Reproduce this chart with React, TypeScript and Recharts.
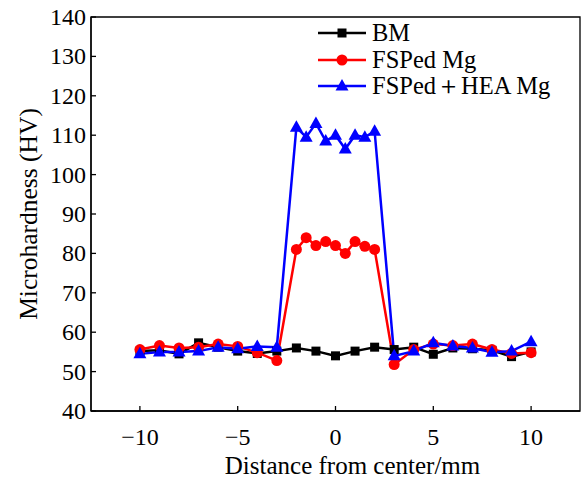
import React from 'react';
import {
  LineChart,
  Line,
  XAxis,
  YAxis,
  Legend,
  ReferenceArea,
} from 'recharts';

// positions across the weld (mm)
const BM_X = [-10, -9, -8, -7, -6, -5, -4, -3, -2, -1, 0, 1, 2, 3, 4, 5, 6, 7, 8, 9, 10];
const FSP_X = [
  -10, -9, -8, -7, -6, -5, -4, -3, -2, -1.5, -1, -0.5, 0, 0.5, 1, 1.5, 2, 3, 4, 5, 6, 7, 8, 9, 10,
];

const BM_HV = [
  55.2, 55.4, 54.5, 57.3, 56.2, 55.2, 54.6, 55.2, 56, 55.2, 54, 55.2, 56.2, 55.6, 56.2, 54.4,
  56, 55.8, 55.4, 53.8, 55,
];
const FSP_MG_HV = [
  55.6, 56.6, 56, 56.2, 57, 56.4, 54.8, 52.8, 81, 84, 82, 83, 82, 80, 83, 81.8, 81, 51.8, 55.6,
  57, 56.6, 57, 55.6, 54.6, 54.8,
];
const FSP_HEA_HV = [
  54.5, 55, 55, 55.2, 56.2, 55.8, 56.4, 56.2, 112, 109.5, 113, 108.5, 110, 106.5, 110, 109.5,
  111, 54, 55.2, 57.3, 56.5, 56, 54.9, 55.2, 57.6,
];

const X_TICKS = [-10, -5, 0, 5, 10];
const Y_TICKS = [40, 50, 60, 70, 80, 90, 100, 110, 120, 130, 140];

const FONT = '"Liberation Serif", "Times New Roman", serif';

type Shape = 'square' | 'circle' | 'triangle';

const SERIES: { key: string; name: string; color: string; shape: Shape; data: { x: number; y: number }[] }[] = [
  { key: 'bm', name: 'BM', color: '#000000', shape: 'square', data: BM_X.map((x, i) => ({ x, y: BM_HV[i] })) },
  { key: 'fsp', name: 'FSPed Mg', color: '#ff0000', shape: 'circle', data: FSP_X.map((x, i) => ({ x, y: FSP_MG_HV[i] })) },
  { key: 'hea', name: 'FSPed\uFF0BHEA Mg', color: '#0000ff', shape: 'triangle', data: FSP_X.map((x, i) => ({ x, y: FSP_HEA_HV[i] })) },
];

const marker = (shape: Shape, cx: number, cy: number, color: string, key?: string | number) => {
  if (shape === 'square') {
    return <rect key={key} x={cx - 4.5} y={cy - 4.5} width={9} height={9} fill={color} />;
  }
  if (shape === 'circle') {
    return <circle key={key} cx={cx} cy={cy} r={5.5} fill={color} />;
  }
  return (
    <polygon
      key={key}
      points={`${cx},${cy - 7} ${cx - 6.5},${cy + 4.5} ${cx + 6.5},${cy + 4.5}`}
      fill={color}
    />
  );
};

const fmtX = (v: number) => (v < 0 ? `\u2212${Math.abs(v)}` : String(v));

const XTick = (props: any) => {
  const { x, y, payload } = props;
  return (
    <g>
      <line x1={x} x2={x} y1={y} y2={y - 5} stroke="#000" strokeWidth={1.3} />
      <text x={x} y={y + 34} textAnchor="middle" fontFamily={FONT} fontSize={24} fill="#000">
        {fmtX(payload.value)}
      </text>
    </g>
  );
};

const YTick = (props: any) => {
  const { x, y, payload } = props;
  return (
    <g>
      <line x1={x} x2={x + 5} y1={y} y2={y} stroke="#000" strokeWidth={1.3} />
      <text x={x - 5} y={y + 8} textAnchor="end" fontFamily={FONT} fontSize={24} fill="#000">
        {payload.value}
      </text>
    </g>
  );
};

const renderLegend = () => (
  <div style={{ fontFamily: FONT, fontSize: 24.5, color: '#000' }}>
    {SERIES.map((s) => (
      <div key={s.key} style={{ display: 'flex', alignItems: 'center', height: 26.5 }}>
        <svg width={54} height={20} style={{ display: 'block' }}>
          <line x1={0} x2={48} y1={10} y2={10} stroke={s.color} strokeWidth={2.5} />
          {marker(s.shape, 24, 10, s.color)}
        </svg>
        <span style={{ lineHeight: '26px', whiteSpace: 'nowrap' }}>{s.name}</span>
      </div>
    ))}
  </div>
);

const App = () => {
  return (
    <div style={{ position: 'absolute', left: 0, top: 0, background: '#fff' }}>
      <LineChart width={582} height={478} margin={{ top: 17, right: 2, bottom: 0, left: 0 }}>
        <XAxis
          type="number"
          dataKey="x"
          domain={[-12.5, 12.5]}
          ticks={X_TICKS}
          allowDataOverflow
          height={67}
          tickSize={0}
          tickMargin={0}
          tickLine={false}
          tick={<XTick />}
          axisLine={{ stroke: '#000', strokeWidth: 1.3 }}
          label={{
            position: 'insideBottom',
            content: ({ viewBox }: any) => (
              <text
                x={viewBox.x + viewBox.width / 2 + 17}
                y={465}
                textAnchor="middle"
                dominantBaseline="central"
                fontFamily={FONT}
                fontSize={25}
                fill="#000"
              >
                Distance from center/mm
              </text>
            ),
          }}
        />
        <YAxis
          type="number"
          domain={[40, 140]}
          ticks={Y_TICKS}
          width={91}
          tickSize={0}
          tickMargin={0}
          tickLine={false}
          tick={<YTick />}
          axisLine={{ stroke: '#000', strokeWidth: 1.3 }}
          label={{
            position: 'insideLeft',
            content: ({ viewBox }: any) => {
              const cx = viewBox.x + 28;
              const cy = viewBox.y + viewBox.height / 2;
              return (
                <text
                  x={cx}
                  y={cy}
                  transform={`rotate(-90 ${cx} ${cy})`}
                  textAnchor="middle"
                  dominantBaseline="central"
                  fontFamily={FONT}
                  fontSize={25.5}
                  fill="#000"
                >
                  Microhardness (HV)
                </text>
              );
            },
          }}
        />
        <ReferenceArea x1={-12.5} x2={12.5} y1={40} y2={140} fill="none" stroke="#000" strokeWidth={1.3} />
        {SERIES.map((s) => (
          <Line
            key={s.key}
            data={s.data}
            dataKey="y"
            name={s.name}
            stroke={s.color}
            strokeWidth={2.5}
            isAnimationActive={false}
            dot={(p: any) => marker(s.shape, p.cx, p.cy, s.color, p.index)}
            activeDot={false}
          />
        ))}
        <Legend
          layout="vertical"
          align="center"
          verticalAlign="middle"
          content={renderLegend}
          wrapperStyle={{ position: 'absolute', top: 20, left: 318, width: 262, height: 80 }}
        />
      </LineChart>
    </div>
  );
};

export default App;
